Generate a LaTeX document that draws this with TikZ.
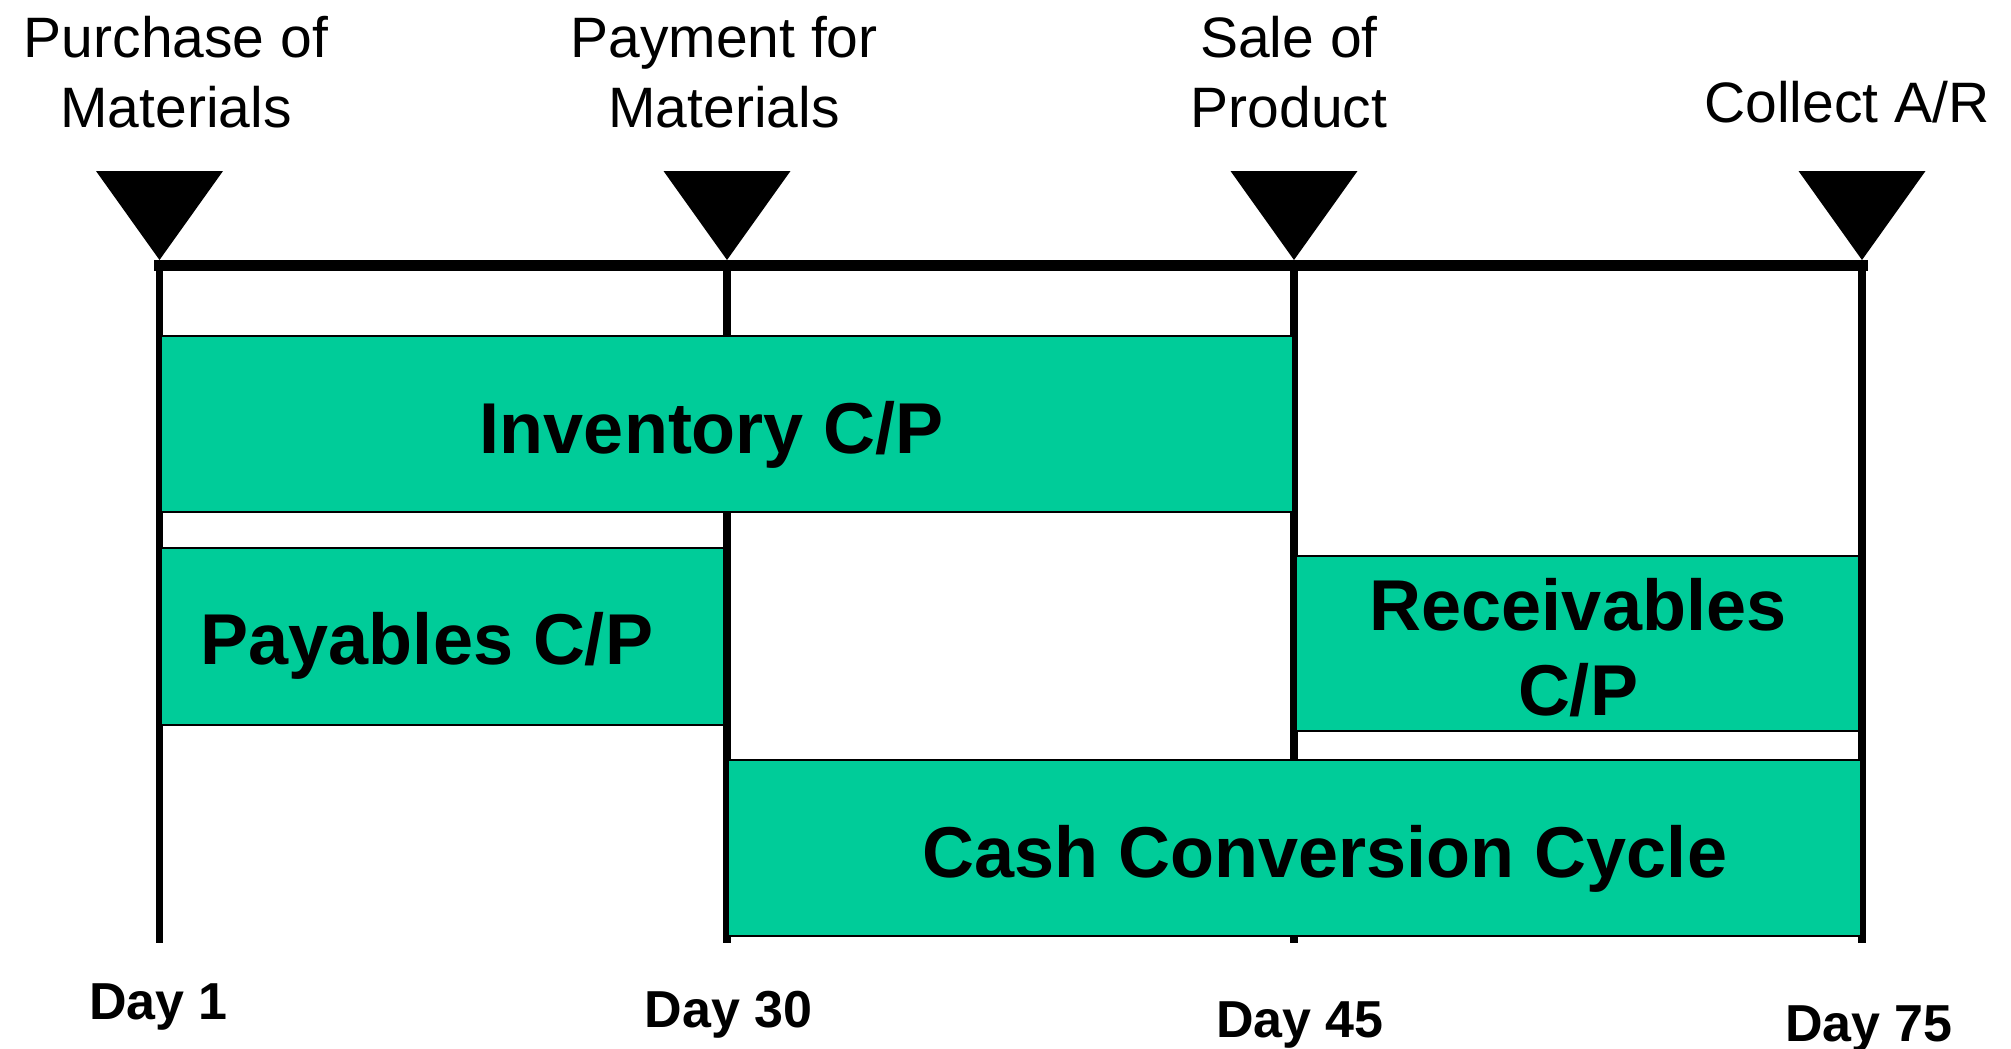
\documentclass[tikz,border=0pt]{standalone}
\usepackage{fontspec}
\setmainfont{Liberation Sans}
\definecolor{cycgreen}{RGB}{0,204,153}
\begin{document}
\begin{tikzpicture}[x=1pt,y=-1pt,
  event/.style={font=\fontsize{57}{70}\selectfont, align=center, anchor=base, inner sep=0pt},
  daylabel/.style={font=\fontsize{52}{60}\selectfont\bfseries, anchor=base, inner sep=0pt},
  period/.style={draw=black, line width=2.5pt, fill=cycgreen, inner sep=0pt, outer sep=0pt, anchor=north west},
  periodtext/.style={font=\fontsize{72}{85}\selectfont\bfseries, align=center, anchor=base, inner sep=0pt},
  marker/.style={fill=black},
  timeline/.style={line width=11pt, line cap=rect},
  tick/.style={line width=7.5pt}]
\useasboundingbox (0,0) rectangle (2011,1049);

% points on the time axis and the feet of the day ticks
\coordinate (t1) at (159.5,265.5);
\coordinate (t2) at (727,265.5);
\coordinate (t3) at (1294,265.5);
\coordinate (t4) at (1862,265.5);
\coordinate (b1) at (159.5,943);
\coordinate (b2) at (727,943);
\coordinate (b3) at (1294,943);
\coordinate (b4) at (1862,943);

% time axis and day ticks
\draw[timeline] (t1) -- (t4);
\foreach \i in {1,2,3,4} \draw[tick] (t\i) -- (b\i);

% event markers
\foreach \i in {1,2,3,4}
  \fill[marker] ([xshift=-63.5pt,yshift=94.5pt]t\i) -- ([xshift=63.5pt,yshift=94.5pt]t\i) -- ([yshift=5.5pt]t\i) -- cycle;

% event labels (multi-line nodes sit on their last baseline)
\node[event] (ev1) at (176,127) {Purchase of\\Materials};
\node[event] (ev2) at (724,127) {Payment for\\Materials};
\node[event] (ev3) at (1289,127) {Sale of\\Product};
\node[event] (ev4) at (1847,122) {Collect A/R};

% periods
\node[period, minimum width=1132.5pt, minimum height=176pt] (inv) at (160.5,336) {};
\node[period, minimum width=563.5pt, minimum height=177pt] (pay) at (160.5,548) {};
\node[period, minimum width=563pt, minimum height=175pt] (rec) at (1296,556) {};
\node[period, minimum width=1133pt, minimum height=176pt] (ccc) at (728,760) {};

\node[periodtext] (invt) at (712,453) {Inventory C/P};
\node[periodtext] (payt) at (427,664) {Payables C/P};
\node[periodtext] (rect) at (1578,715) {Receivables\\C/P};
\node[periodtext] (ccct) at (1325,877) {Cash Conversion Cycle};

% day labels
\node[daylabel] (d1) at (158.5,1019) {Day 1};
\node[daylabel] (d2) at (728.5,1027) {Day 30};
\node[daylabel] (d3) at (1300,1037) {Day 45};
\node[daylabel] (d4) at (1869,1041) {Day 75};
\end{tikzpicture}
\end{document}
